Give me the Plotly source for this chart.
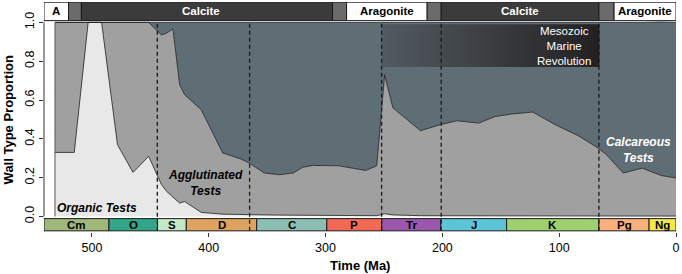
import plotly.graph_objects as go

# ---------------- data ----------------
time_ma = [531.6, 515.1, 503.2, 491.7, 478.1, 464.8, 451.4, 440.5, 436.0, 430.6,
           424.9, 420.6, 406.4, 388.0, 372.3, 365.2, 352.4, 339.6, 327.6, 319.7,
           311.2, 288.4, 265.6, 256.2, 249.4, 242.3, 218.7, 201.6, 187.5, 168.9,
           154.7, 140.5, 122.6, 103.5, 83.6, 66.6, 59.5, 45.2, 29.0, 12.5, 0.0]
organic = [0.33, 0.33, 1.0, 1.0, 0.37, 0.227, 0.31, 0.165, 0.129, 0.10,
           0.069, 0.077, 0.021, 0.012, 0.010, 0.009, 0.008, 0.007, 0.007, 0.006,
           0.006, 0.005, 0.004, 0.004, 0.014, 0.008, 0.004, 0.003, 0.003, 0.002,
           0.002, 0.002, 0.002, 0.002, 0.002, 0.002, 0.002, 0.002, 0.002, 0.002, 0.002]
agglutinated = [0.67, 0.67, 0.0, 0.0, 0.63, 0.773, 0.69, 0.77, 0.816, 0.866,
                0.61, 0.55, 0.529, 0.315, 0.286, 0.266, 0.216, 0.208, 0.217, 0.247,
                0.257, 0.256, 0.233, 0.257, 0.716, 0.551, 0.438, 0.47, 0.49, 0.479,
                0.513, 0.526, 0.536, 0.471, 0.414, 0.35, 0.316, 0.222, 0.247, 0.209, 0.196]
calcareous = [0.0, 0.0, 0.0, 0.0, 0.0, 0.0, 0.0, 0.065, 0.055, 0.034,
              0.321, 0.373, 0.45, 0.673, 0.704, 0.725, 0.776, 0.785, 0.776, 0.747,
              0.737, 0.739, 0.763, 0.739, 0.27, 0.441, 0.558, 0.527, 0.507, 0.519,
              0.485, 0.472, 0.462, 0.527, 0.584, 0.648, 0.682, 0.776, 0.751, 0.791, 0.802]

period_names = ["Cm", "O", "S", "D", "C", "P", "Tr", "J", "K", "Pg", "Ng"]
period_start = [541.0, 485.4, 443.8, 419.2, 358.9, 298.9, 251.9, 201.3, 145.0, 66.0, 23.03]
period_end = [485.4, 443.8, 419.2, 358.9, 298.9, 251.9, 201.3, 145.0, 66.0, 23.03, 0.0]
period_colors = ["#9fb778", "#33a68a", "#c4e8c8", "#dea35e", "#8cbfb1", "#f26a55",
                 "#9b57ab", "#5dc3d6", "#9dd16f", "#f9b07a", "#f2e84a"]

sea_labels = ["A", "", "Calcite", "", "Aragonite", "", "Calcite", "", "Aragonite"]
sea_start = [541.0, 520.0, 509.0, 294.0, 282.0, 213.0, 201.0, 66.0, 53.0]
sea_end = [520.0, 509.0, 294.0, 282.0, 213.0, 201.0, 66.0, 53.0, 0.0]
sea_kind = ["arag", "trans", "calc", "trans", "arag", "trans", "calc", "trans", "arag"]

extinctions = [444.0, 365.0, 252.0, 201.0, 66.0]

tick_vals_x = [500, 400, 300, 200, 100, 0]
tick_vals_y = [0.0, 0.2, 0.4, 0.6, 0.8, 1.0]
tick_text_y = ["0.0", "0.2", "0.4", "0.6", "0.8", "1.0"]

# ---------------- style ----------------
FONT = "Liberation Sans, Arial, Helvetica, sans-serif"
C_ORG = "#e8e8e8"
C_AGG = "#a0a0a0"
C_CALC = "#5f6d75"
LINE = "#1e1e1e"

fig = go.Figure()

for name, vals, col in [("Organic", organic, C_ORG),
                        ("Agglutinated", agglutinated, C_AGG),
                        ("Calcareous", calcareous, C_CALC)]:
    fig.add_trace(go.Scatter(x=time_ma, y=vals, stackgroup="walls", mode="lines",
                             line=dict(color=LINE, width=0.8), fillcolor=col,
                             name=name, showlegend=False, hoverinfo="skip"))

# left edge of the data
fig.add_trace(go.Scatter(x=[time_ma[0], time_ma[0]], y=[0, 1], mode="lines",
                         line=dict(color="#555555", width=1), showlegend=False,
                         hoverinfo="skip"))

# Mesozoic Marine Revolution box (gradient)
mmr_x = [252.0, 65.5, 65.5, 252.0, 252.0]
mmr_y = [0.77, 0.77, 0.99, 0.99, 0.77]
fig.add_trace(go.Scatter(x=mmr_x, y=mmr_y, mode="lines", fill="toself",
                         line=dict(width=0, color="rgba(0,0,0,0)"),
                         fillgradient=dict(type="horizontal",
                                           colorscale=[[0, "#525b62"], [0.5, "#3b3d40"], [1, "#222021"]]),
                         showlegend=False, hoverinfo="skip"))

shapes = []
# geological period bar
for s, e, c in zip(period_start, period_end, period_colors):
    shapes.append(dict(type="rect", xref="x", yref="y", x0=s, x1=e, y0=-0.074, y1=-0.011,
                       fillcolor=c, line=dict(color="#1a1a1a", width=1), layer="above"))
# sea chemistry bar
sea_fill = {"arag": "white", "trans": "#6b6b6b", "calc": "#3b3b3b"}
for s, e, k in zip(sea_start, sea_end, sea_kind):
    shapes.append(dict(type="rect", xref="x", yref="y", x0=s, x1=e, y0=1.009, y1=1.104,
                       fillcolor=sea_fill[k], line=dict(color="#1a1a1a", width=1), layer="above"))
# extinction lines
for t in extinctions:
    shapes.append(dict(type="line", xref="x", yref="y", x0=t, x1=t, y0=-0.074, y1=1.0,
                       line=dict(color="#1a1a1a", width=1.3, dash="4px,3px"), layer="above"))
# y axis line (0..1 only)
shapes.append(dict(type="line", xref="paper", yref="y", x0=0, x1=0, y0=0, y1=1,
                   line=dict(color="#333333", width=1)))

annotations = []
for s, e, name in zip(period_start, period_end, period_names):
    annotations.append(dict(x=(s + e) / 2, y=-0.0425, xref="x", yref="y", text="<b>%s</b>" % name,
                            showarrow=False, font=dict(family=FONT, size=11.5, color="black"),
                            yanchor="middle"))
for s, e, lab, k in zip(sea_start, sea_end, sea_labels, sea_kind):
    if not lab:
        continue
    xc = (s + e) / 2
    if lab == "Calcite" and s > 400:
        xc = 407.0
    annotations.append(dict(x=xc, y=1.057, xref="x", yref="y", text="<b>%s</b>" % lab,
                            showarrow=False, yanchor="middle",
                            font=dict(family=FONT, size=11.5,
                                      color="white" if k == "calc" else "black")))

annotations += [
    dict(x=496, y=0.046, xref="x", yref="y", text="<b><i>Organic Tests</i></b>", showarrow=False,
         font=dict(family=FONT, size=12, color="black"), yanchor="middle"),
    dict(x=403, y=0.17, xref="x", yref="y", text="<b><i>Agglutinated<br>Tests</i></b>", showarrow=False,
         font=dict(family=FONT, size=12, color="black"), yanchor="middle"),
    dict(x=32.4, y=0.34, xref="x", yref="y", text="<b><i>Calcareous<br>Tests</i></b>", showarrow=False,
         font=dict(family=FONT, size=12, color="white"), yanchor="middle"),
    dict(x=96, y=0.88, xref="x", yref="y", text="Mesozoic<br>Marine<br>Revolution", showarrow=False,
         font=dict(family=FONT, size=11.5, color="white"), yanchor="middle"),
    dict(x=0.5, y=-0.145, xref="paper", yref="paper", text="<b>Time (Ma)</b>", showarrow=False,
         font=dict(family=FONT, size=13, color="black"), yanchor="middle"),
    dict(x=-0.057, y=0.5, xref="paper", yref="y", text="<b>Wall Type Proportion</b>", showarrow=False,
         textangle=-90, font=dict(family=FONT, size=13, color="black"), xanchor="center", yanchor="middle"),
]

fig.update_layout(
    width=682, height=274,
    margin=dict(l=44, r=4, t=2, b=42),
    paper_bgcolor="white", plot_bgcolor="white",
    font=dict(family=FONT, color="black"),
    shapes=shapes, annotations=annotations,
    showlegend=False,
    xaxis=dict(range=[541, 0], tickvals=tick_vals_x, ticks="outside", ticklen=4,
               tickcolor="#333", showgrid=False, zeroline=False, showline=False,
               tickfont=dict(size=12.5, family=FONT, color="black")),
    yaxis=dict(range=[-0.08, 1.105], tickvals=tick_vals_y, ticktext=tick_text_y,
               tickangle=-90, ticks="outside", ticklen=4, tickcolor="#333",
               showgrid=False, zeroline=False, showline=False,
               tickfont=dict(size=12.5, family=FONT, color="black")),
)

fig.write_html("out.html", config={"displayModeBar": False},
               post_script="document.body.style.margin='0px';document.body.style.overflow='hidden';")
